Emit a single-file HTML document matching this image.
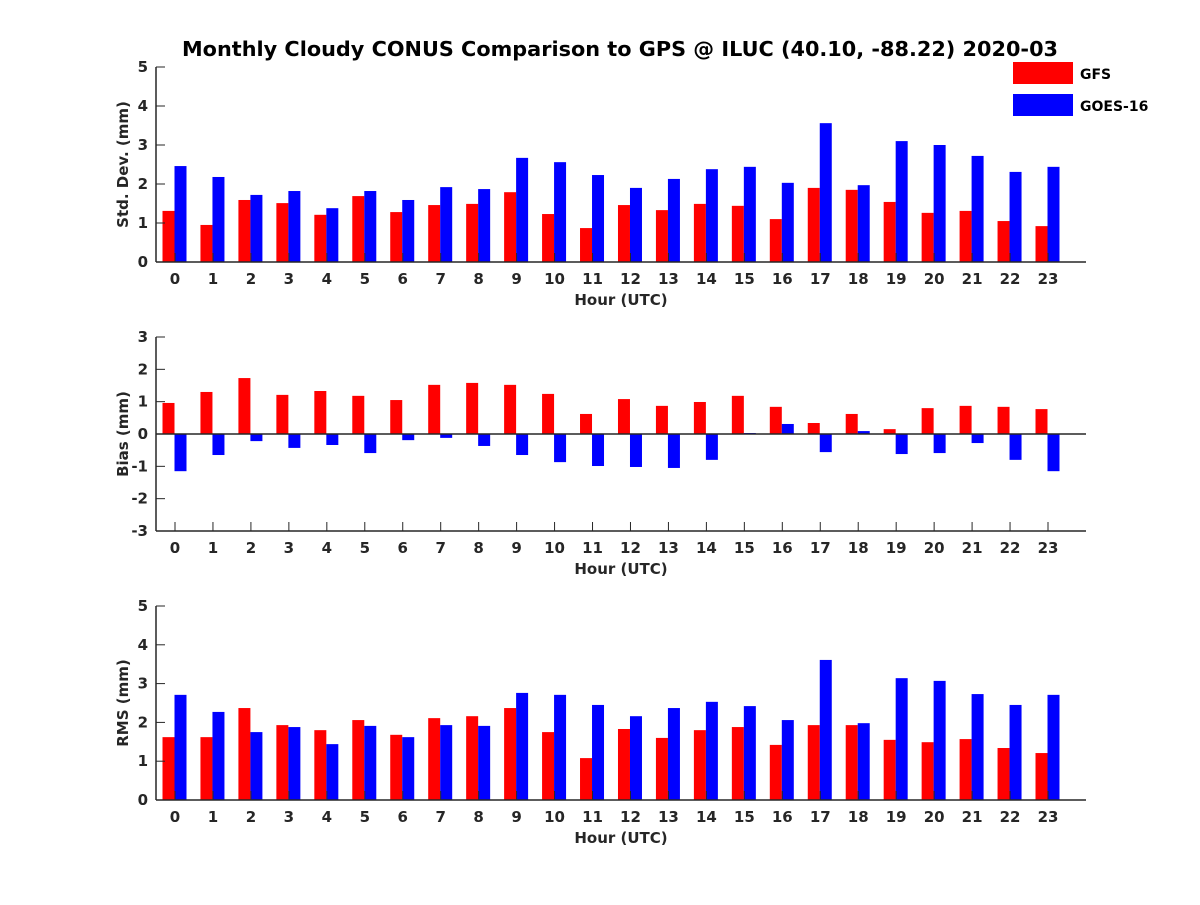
<!DOCTYPE html>
<html><head><meta charset="utf-8"><style>
html,body{margin:0;padding:0;background:#fff;}
svg text{font-family:"DejaVu Sans","Liberation Sans",sans-serif;font-weight:bold;fill:#262626;}
</style></head><body>
<svg id="chart" width="1200" height="900" viewBox="0 0 1200 900">
<rect width="1200" height="900" fill="#fff"/>
<text x="620" y="56" font-size="20.8" text-anchor="middle" style="fill:#000">Monthly Cloudy CONUS Comparison to GPS @ ILUC (40.10, -88.22) 2020-03</text>
<g>
<rect x="1013" y="62" width="60" height="22" fill="#ff0000"/>
<text x="1080" y="79" font-size="14" style="fill:#000">GFS</text>
<rect x="1013" y="94" width="60" height="22" fill="#0000ff"/>
<text x="1080" y="111" font-size="14" style="fill:#000">GOES-16</text>
</g>
</svg>
<script>
const hours = [0,1,2,3,4,5,6,7,8,9,10,11,12,13,14,15,16,17,18,19,20,21,22,23];
const stdGFS = [1.31,0.95,1.59,1.51,1.21,1.69,1.28,1.46,1.49,1.79,1.23,0.87,1.46,1.33,1.49,1.44,1.10,1.90,1.85,1.54,1.26,1.31,1.05,0.92];
const stdGOES = [2.46,2.18,1.72,1.82,1.38,1.82,1.59,1.92,1.87,2.67,2.56,2.23,1.90,2.13,2.38,2.44,2.03,3.56,1.97,3.10,3.00,2.72,2.31,2.44];
const biasGFS = [0.96,1.30,1.73,1.21,1.33,1.18,1.05,1.52,1.58,1.52,1.24,0.62,1.08,0.87,0.99,1.18,0.84,0.34,0.62,0.15,0.80,0.87,0.84,0.77];
const biasGOES = [-1.15,-0.65,-0.22,-0.43,-0.34,-0.59,-0.19,-0.12,-0.37,-0.65,-0.87,-0.99,-1.02,-1.05,-0.80,0.03,0.31,-0.56,0.09,-0.62,-0.59,-0.28,-0.80,-1.15];
const rmsGFS = [1.62,1.62,2.37,1.93,1.80,2.06,1.68,2.11,2.16,2.37,1.75,1.08,1.83,1.60,1.80,1.88,1.42,1.93,1.93,1.55,1.49,1.57,1.34,1.21];
const rmsGOES = [2.71,2.27,1.75,1.88,1.44,1.91,1.62,1.93,1.91,2.76,2.71,2.45,2.16,2.37,2.53,2.42,2.06,3.61,1.98,3.14,3.07,2.73,2.45,2.71];
const stdTicks = [0,1,2,3,4,5];
const biasTicks = [-3,-2,-1,0,1,2,3];
const rmsTicks = [0,1,2,3,4,5];

const NS="http://www.w3.org/2000/svg";
const svg=document.getElementById('chart');
function mk(tag,attrs,parent){const e=document.createElementNS(NS,tag);for(const k in attrs)e.setAttribute(k,attrs[k]);(parent||svg).appendChild(e);return e;}

function panel(name,top,bottom,ymin,ymax,ticks,red,blue,ylabel,zeroLine){
  const g=mk('g',{});
  
  
  const x0=156,x1=1086;
  const xs=h=>175+(h-hours[0])*(1048-175)/23;
  const ys=v=>bottom-(v-ymin)*(bottom-top)/(ymax-ymin);
  const bw=12;
  const base=ys(Math.max(ymin,Math.min(0,ymax)));
  hours.forEach((h,i)=>{
    const yr=ys(red[i]);
    const r=mk('rect',{x:xs(h)-bw-0.5,y:Math.min(yr,base),width:bw,height:Math.abs(base-yr),fill:'#ff0000'},g);
    
    
    const yb=ys(blue[i]);
    const b=mk('rect',{x:xs(h)-0.5,y:Math.min(yb,base),width:bw,height:Math.abs(base-yb),fill:'#0000ff'},g);
    
    
  });
  mk('line',{x1:x0,y1:top,x2:x0,y2:bottom,stroke:'#262626','stroke-width':1.5},g);
  mk('line',{x1:x0,y1:bottom,x2:x1,y2:bottom,stroke:'#262626','stroke-width':1.5},g);
  if(zeroLine) mk('line',{x1:x0,y1:ys(0),x2:x1,y2:ys(0),stroke:'#262626','stroke-width':1.5},g);
  ticks.forEach(t=>{
    const y=ys(t);
    mk('line',{x1:x0,y1:y,x2:x0+9,y2:y,stroke:'#262626','stroke-width':1},g);
    const tx=mk('text',{x:x0-8,y:y+5,'font-size':15,'text-anchor':'end'},g);
    tx.textContent=t;
    
    
  });
  hours.forEach(h=>{
    const x=xs(h);
    mk('line',{x1:x,y1:bottom,x2:x,y2:bottom-9,stroke:'#262626','stroke-width':1},g);
    const tx=mk('text',{x:x,y:bottom+22,'font-size':15,'text-anchor':'middle'},g);
    tx.textContent=h;
    
    
  });
  const xl=mk('text',{x:621,y:bottom+43,'font-size':15,'text-anchor':'middle'},g);
  xl.textContent='Hour (UTC)';
  
  
  const cy=(top+bottom)/2;
  const yl=mk('text',{x:128,y:cy,'font-size':15,'text-anchor':'middle',transform:'rotate(-90 128 '+cy+')'},g);
  yl.textContent=ylabel;
  
  
}
panel('std-dev',67,262,0,5,stdTicks,stdGFS,stdGOES,'Std. Dev. (mm)',false);
panel('bias',337,531,-3,3,biasTicks,biasGFS,biasGOES,'Bias (mm)',true);
panel('rms',606,800,0,5,rmsTicks,rmsGFS,rmsGOES,'RMS (mm)',false);
</script>
</body></html>
